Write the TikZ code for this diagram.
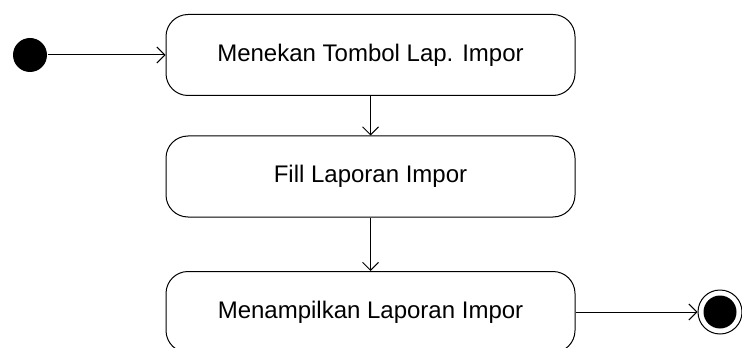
\documentclass[tikz,border=0pt]{standalone}
\usepackage{fontspec}
\setmainfont{Liberation Sans}
\usetikzlibrary{arrows.meta}

\begin{document}
\begin{tikzpicture}[x=0.5pt, y=-0.5pt, line width=0.5pt,
  >={Straight Barb[length=4pt,width=8pt]},
  activity/.style={rectangle, rounded corners=11pt, draw, minimum width=204.5pt,
    minimum height=40.5pt, font=\fontsize{12}{14}\selectfont},
  initial/.style={circle, fill, minimum size=17pt, inner sep=0pt},
  final/.style={circle, draw, minimum size=22pt, inner sep=0pt}]
  \useasboundingbox (0,0) rectangle (742,347);

  % Start and end states
  \node[initial] (start) at (30,55) {};
  \node[final] (stop) at (720,312) {};
  \node[initial, minimum size=16.5pt] (stopin) at (720,312) {};

  % Activities
  \node[activity] (a1) at (370.5,55) {Menekan Tombol Lap. Impor};
  \node[activity] (a2) at (370.5,176.5) {Fill Laporan Impor};
  \node[activity] (a3) at (370.5,312) {Menampilkan Laporan Impor};

  \draw[->] (start) to (a1);
  \draw[->] (a1) to (a2);
  \draw[->] (a2) to (a3);
  \draw[->] (a3) to (stop);
\end{tikzpicture}
\end{document}
